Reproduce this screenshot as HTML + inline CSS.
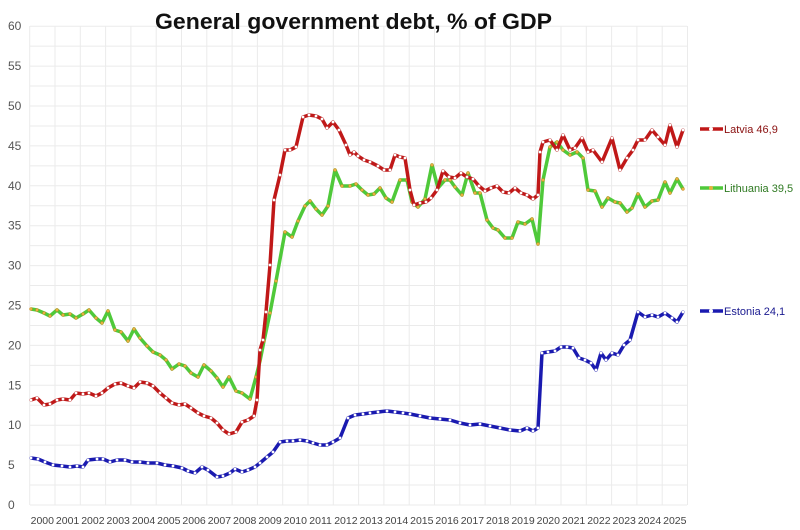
<!DOCTYPE html>
<html><head><meta charset="utf-8"><style>body{margin:0;background:#fff}svg{display:block}</style></head>
<body>
<svg id="s" width="800" height="530" xmlns="http://www.w3.org/2000/svg" font-family="Liberation Sans, sans-serif"></svg>
<script>
const s=document.getElementById('s');let h='';
const Y=v=>505-v*7.98;
for(let v=0;v<=60;v+=2.5){const y=Y(v);h+=`<line x1="30" x2="687" y1="${y}" y2="${y}" stroke="#ebebeb" stroke-width="1"/>`;}
for(let i=0;i<=26;i++){const x=29.7+25.3*i;h+=`<line x1="${x}" x2="${x}" y1="26" y2="505" stroke="#ebebeb" stroke-width="1"/>`;}
for(let v=0;v<=60;v+=5){h+=`<text x="8" y="${Y(v)+4}" font-size="12" fill="#555">${v}</text>`;}
for(let i=0;i<26;i++){const x=29.7+25.3*i+12.6;h+=`<text x="${x}" y="524" font-size="10.5" fill="#444" text-anchor="middle">${2000+i}</text>`;}
h+=`<text x="155" y="29" font-size="22" font-weight="bold" fill="#111" textLength="397" lengthAdjust="spacingAndGlyphs">General government debt, % of GDP</text>`;
const lat=[[31,400],[37,398],[44,405],[50,404],[57,400],[63,399],[70,400],[76,393],[83,394],[89,393],[96,396],[102,393],[108,388],[115,384],[121,383],[128,386],[134,388],[140,382],[147,383],[153,386],[160,393],[166,398],[172,403],[179,405],[185,404],[191,408],[198,413],[204,416],[211,418],[217,423],[223,430],[229,434],[236,432],[242,422],[248,420],[254,416],[257,400],[260,350],[263,340],[266,312],[270,265],[274,200],[280,175],[285,150],[290,150],[296,147],[303,117],[309,115],[316,116],[322,119],[327,128],[333,122],[339,130],[346,145],[350,155],[354,152],[358,156],[364,160],[370,162],[378,166],[384,170],[390,170],[395,155],[400,157],[405,158],[410,190],[414,205],[420,203],[426,202],[431,198],[437,190],[443,171],[449,177],[455,178],[461,173],[467,177],[473,179],[479,186],[485,191],[491,188],[497,186],[503,192],[509,193],[515,188],[521,193],[527,195],[533,199],[538,195],[540,152],[543,142],[550,140],[557,150],[563,135],[570,150],[575,148],[582,138],[588,152],[593,150],[602,162],[612,138],[620,170],[627,158],[633,150],[638,140],[645,140],[652,130],[658,137],[665,145],[670,125],[677,147],[683,130]];
const lit=[[31,309],[37,310],[44,313],[50,316],[57,310],[63,315],[70,314],[76,318],[83,314],[89,310],[96,318],[102,323],[108,311],[115,330],[121,332],[128,341],[134,329],[140,338],[147,346],[153,352],[160,355],[166,360],[172,369],[179,364],[185,366],[191,373],[198,377],[204,365],[211,371],[217,378],[223,387],[229,377],[236,391],[242,393],[250,399],[256,377],[260,361],[264,341],[270,313],[276,281],[285,232],[292,237],[298,221],[305,206],[310,201],[316,209],[322,215],[328,206],[335,170],[342,186],[350,186],[356,184],[362,190],[368,195],[374,194],[380,188],[386,198],[392,202],[400,180],[407,180],[412,202],[418,207],[425,199],[432,165],[438,188],[445,180],[450,180],[455,187],[462,195],[468,173],[475,193],[480,193],[487,220],[493,228],[498,230],[505,238],[512,238],[518,222],[525,224],[532,219],[538,244],[543,180],[550,147],[557,142],[563,150],[570,155],[577,152],[583,158],[588,190],[595,191],[602,207],[608,198],[615,202],[620,203],[627,212],[632,208],[638,194],[645,207],[652,201],[658,200],[665,182],[670,193],[677,179],[683,189]];
const est=[[31,458],[38,459],[45,462],[53,465],[62,466],[70,467],[77,466],[83,467],[88,460],[97,459],[103,459],[110,462],[117,460],[125,460],[132,462],[140,462],[148,463],[157,463],[165,465],[173,466],[182,468],[188,471],[195,473],[202,467],[208,470],[217,477],[223,476],[230,473],[235,469],[242,472],[248,470],[255,467],[260,463],[267,457],[273,452],[280,442],[287,441],[293,441],[300,440],[307,441],[313,443],[320,445],[327,445],[333,442],[340,438],[348,418],[355,415],[363,414],[370,413],[378,412],[387,411],[395,412],[403,413],[410,414],[420,416],[430,418],[440,419],[450,420],[460,423],[470,425],[480,424],[490,426],[500,428],[510,430],[520,431],[527,428],[533,431],[538,428],[542,353],[548,352],[555,351],[561,347],[567,347],[573,348],[579,358],[585,360],[591,363],[596,370],[601,353],[606,360],[612,353],[618,355],[624,345],[630,340],[638,312],[645,317],[652,315],[658,317],[665,313],[672,318],[677,322],[683,312]];
function ser(d,c,mf,ms){h+=`<polyline points="${d.map(p=>p.join(',')).join(' ')}" fill="none" stroke="${c}" stroke-width="3.5" stroke-linejoin="round"/>`;
d.forEach(p=>h+=`<circle cx="${p[0]}" cy="${p[1]}" r="1.5" fill="${mf}" stroke="${ms}" stroke-width="0.5"/>`);}
ser(lit,'#4fc93a','#e8b040','#c98a20');
ser(lat,'#c01818','#fff','#d08080');
ser(est,'#1a1ab0','#fff','#8080d0');
function leg(y,c,tc,mf,t){h+=`<line x1="700" x2="723" y1="${y}" y2="${y}" stroke="${c}" stroke-width="3.5"/><circle cx="711" cy="${y}" r="2" fill="${mf}"/><text x="724" y="${y+4}" font-size="11" fill="${tc}">${t}</text>`;}
leg(129,'#c01818','#8a1010','#fff','Latvia 46,9');
leg(188,'#4fc93a','#2f7a22','#e8b040','Lithuania 39,5');
leg(311,'#1a1ab0','#1a1a90','#fff','Estonia 24,1');
s.innerHTML=h;
</script>
</body></html>
